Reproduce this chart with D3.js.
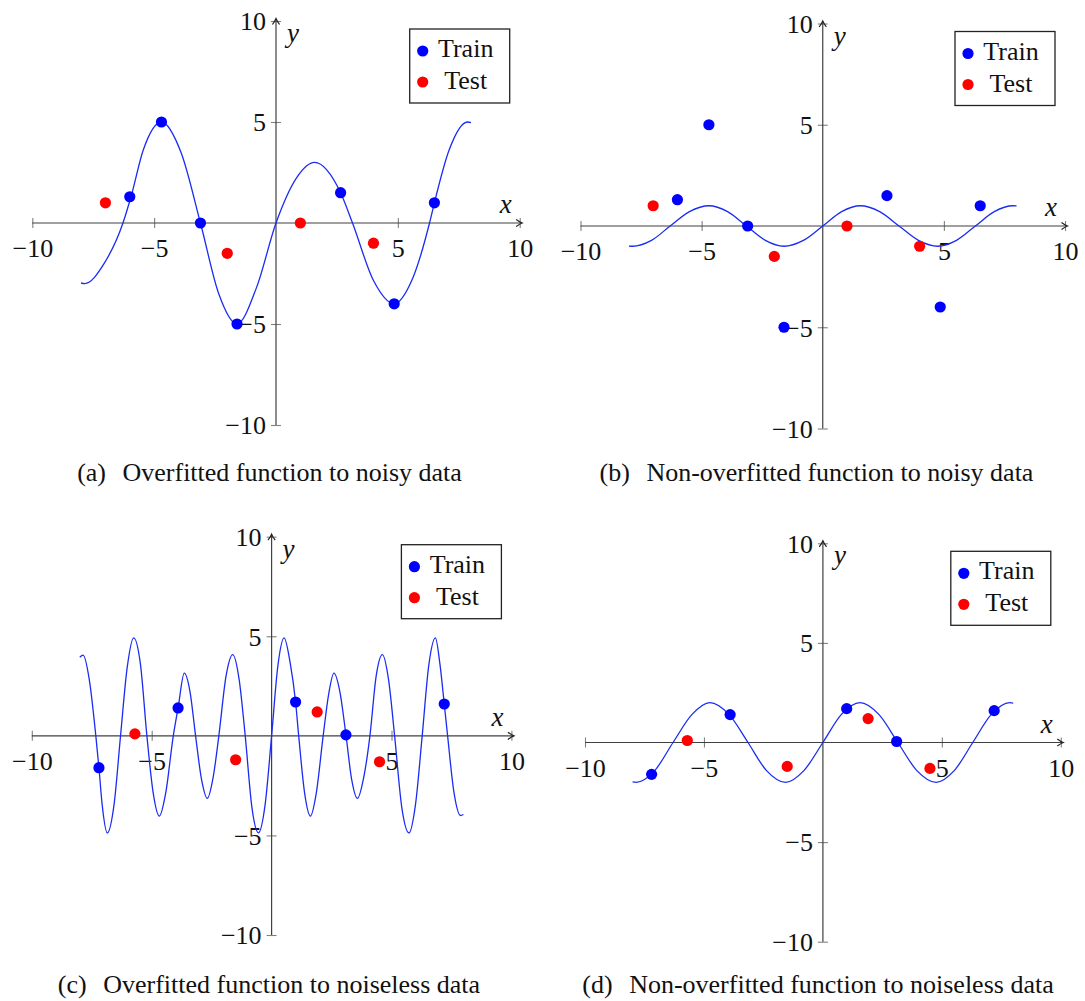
<!DOCTYPE html>
<html>
<head>
<meta charset="utf-8">
<script src="https://cdn.jsdelivr.net/npm/d3@7"></script>
<style>
  body { margin: 0; background: #fff; }
  svg text { font-family: "Liberation Serif", "DejaVu Serif", "Noto Serif", serif; fill: #111; }
  .tick text { font-size: 26px; }
</style>
</head>
<body>
<div id="figure"></div>
<script>
// Ticks used on both axes of every panel
var tickValues = [-10, -5, 5, 10];

// Noisy samples, panels (a) and (b)
var noisyTrainX = [-6.0, -4.7, -3.1, -1.6, 2.65, 4.85, 6.5];
var noisyTrainY = [1.3, 5.0, 0.0, -5.0, 1.5, -4.0, 1.0];
var noisyTestX = [-7.0, -2.0, 1.0, 4.0];
var noisyTestY = [1.0, -1.5, 0.0, -1.0];

// Noiseless samples, panels (c) and (d)
var cleanTrainX = [-7.2, -3.9, 1.0, 3.1, 7.2];
var cleanTrainY = [-1.6, 1.4, 1.7, 0.05, 1.6];
var cleanTestX = [-5.7, -1.5, 1.9, 4.5];
var cleanTestY = [0.1, -1.2, 1.2, -1.3];

// Fitted curves, points
var curveAX = [-8.0, -7.85, -7.05, -6.28, -5.95, -5.45, -4.7, -3.9, -3.1, -2.35, -1.6, -0.8, 0, 0.85, 1.58, 2.65, 3.14, 4.0, 4.85, 5.57, 6.3, 6.5, 7.1, 7.86, 8.0];
var curveAY = [-2.97, -3.0, -2.0, 0, 1.3, 3.6, 5.0, 3.5, 0, -3.5, -5.0, -3.2, 0, 2.25, 3.0, 1.5, 0, -2.85, -4.0, -2.85, 0, 1.0, 3.6, 5.0, 4.97];

var curveBX = [-8.0, -7.85, -7.07, -6.3, -5.5, -4.7, -3.93, -3.15, -2.37, -1.6, -0.8, 0, 0.78, 1.55, 2.35, 3.15, 3.95, 4.75, 5.52, 6.3, 7.08, 7.85, 8.0];
var curveBY = [-0.99, -1.0, -0.71, 0, 0.71, 1.0, 0.71, 0, -0.71, -1.0, -0.71, 0, 0.71, 1.0, 0.71, 0, -0.71, -1.0, -0.71, 0, 0.71, 1.0, 0.99];

var curveCX = [-8.0, -7.86, -7.6, -7.33, -7.2, -7.07, -6.85, -6.57, -6.3, -6.02, -5.75, -5.47, -5.2, -4.94, -4.68, -4.42,
  -4.1, -3.9, -3.64, -3.4, -3.17, -2.92, -2.68, -2.44, -2.2, -1.9, -1.62, -1.35, -1.1, -0.82, -0.55, -0.27,
  0, 0.26, 0.52, 0.77, 1.0, 1.13, 1.38, 1.62, 1.86, 2.15, 2.38, 2.6, 2.85, 3.1, 3.34, 3.58, 3.84,
  4.1, 4.36, 4.62, 4.88, 5.13, 5.43, 5.73, 6.0, 6.28, 6.55, 6.83, 7.02, 7.2, 7.34, 7.6, 7.88, 8.0];
var curveCY = [3.95, 4.05, 2.8, 0, -1.6, -3.4, -4.87, -3.45, 0, 3.45, 4.92, 3.6, 0, -2.85, -4.03, -2.9,
  0, 1.4, 3.15, 2.2, 0, -2.2, -3.14, -2.1, 0, 3.0, 4.08, 2.8, 0, -3.6, -4.87, -3.45,
  0, 3.5, 4.92, 3.7, 1.7, 0, -2.9, -4.03, -2.9, 0, 2.1, 3.15, 2.2, 0.05, -2.2, -3.14, -2.1,
  0, 3.0, 4.08, 2.8, 0, -3.6, -4.87, -3.45, 0, 3.5, 4.92, 3.6, 1.6, 0, -2.8, -4.0, -3.95];

var curveDX = [-8.0, -7.85, -7.07, -6.3, -5.5, -4.75, -3.95, -3.15, -2.37, -1.57, -0.8, 0, 0.78, 1.56, 2.35, 3.15, 3.95, 4.76, 5.52, 6.3, 7.08, 7.85, 8.0];
var curveDY = [-1.98, -2.0, -1.41, 0, 1.41, 2.0, 1.41, 0, -1.41, -2.0, -1.41, 0, 1.41, 2.0, 1.41, 0, -1.41, -2.0, -1.41, 0, 1.41, 2.0, 1.98];

var legendLabels = ["Train", "Test"];
var captionTags = ["(a)", "(b)", "(c)", "(d)"];
var captionTexts = [
  "Overfitted function to noisy data",
  "Non-overfitted function to noisy data",
  "Overfitted function to noiseless data",
  "Non-overfitted function to noiseless data"
];

var svgWidth = 1085;
var svgHeight = 1001;

var svg = d3.select("#figure")
  .append("svg")
  .attr("width", svgWidth)
  .attr("height", svgHeight);

svg.append("rect")
  .attr("width", svgWidth)
  .attr("height", svgHeight)
  .attr("fill", "#fff");

// Pixel box of each panel (where -10 and 10 land) and caption anchor
var panels = [
  { left: 32.3, right: 519.7, top: 21, bottom: 425, capX: 269.5, capY: 481,
    cx: curveAX, cy: curveAY, trX: noisyTrainX, trY: noisyTrainY, teX: noisyTestX, teY: noisyTestY },
  { left: 580.5, right: 1065, top: 23.5, bottom: 428.5, capX: 816.5, capY: 481,
    cx: curveBX, cy: curveBY, trX: noisyTrainX, trY: noisyTrainY, teX: noisyTestX, teY: noisyTestY },
  { left: 31.8, right: 511.4, top: 536.7, bottom: 935, capX: 269, capY: 993,
    cx: curveCX, cy: curveCY, trX: cleanTrainX, trY: cleanTrainY, teX: cleanTestX, teY: cleanTestY },
  { left: 585, right: 1060.8, top: 543.3, bottom: 941.7, capX: 818, capY: 993,
    cx: curveDX, cy: curveDY, trX: cleanTrainX, trY: cleanTrainY, teX: cleanTestX, teY: cleanTestY }
];

var axisColor = "#404040";
var tickColor = "#808080";

function arrowHead(g, tx, ty, angle) {
  g.append("path")
    .attr("d", "M-6,-3.6 Q-2.5,-1 0,0 Q-2.5,1 -6,3.6")
    .attr("transform", `translate(${tx}, ${ty}) rotate(${angle})`)
    .attr("fill", "none")
    .attr("stroke", "#222")
    .attr("stroke-width", 1.2);
}

function drawPanel(p, i) {
  var x = d3.scaleLinear().domain([-10, 10]).range([p.left, p.right]);
  var y = d3.scaleLinear().domain([-10, 10]).range([p.bottom, p.top]);

  var g = svg.append("g");

  // x axis through the origin
  var xAxis = g.append("g")
    .attr("transform", `translate(0, ${y(0)})`)
    .call(d3.axisBottom(x).tickValues(tickValues).tickSize(0));
  xAxis.select(".domain").remove();
  xAxis.selectAll(".tick line")
    .attr("y1", -5).attr("y2", 5)
    .attr("stroke", tickColor).attr("stroke-width", 1.1);
  xAxis.selectAll(".tick text")
    .attr("y", 34).attr("dy", null);

  // y axis through the origin
  var yAxis = g.append("g")
    .attr("transform", `translate(${x(0)}, 0)`)
    .call(d3.axisLeft(y).tickValues(tickValues).tickSize(0));
  yAxis.select(".domain").remove();
  yAxis.selectAll(".tick line")
    .attr("x1", -5).attr("x2", 5)
    .attr("stroke", tickColor).attr("stroke-width", 1.1);
  yAxis.selectAll(".tick text")
    .attr("x", -10).attr("dy", "0.34em");

  g.append("line")
    .attr("x1", x(-10)).attr("x2", x(10) + 2)
    .attr("y1", y(0)).attr("y2", y(0))
    .attr("stroke", axisColor).attr("stroke-width", 1.2);
  arrowHead(g, x(10) + 2.5, y(0), 0);

  g.append("line")
    .attr("x1", x(0)).attr("x2", x(0))
    .attr("y1", y(-10)).attr("y2", y(10) - 2)
    .attr("stroke", axisColor).attr("stroke-width", 1.2);
  arrowHead(g, x(0), y(10) - 2.5, -90);

  // fitted curve
  var line = d3.line()
    .x(d => x(d[0]))
    .y(d => y(d[1]))
    .curve(d3.curveMonotoneX);

  g.append("path")
    .datum(d3.zip(p.cx, p.cy))
    .attr("d", line)
    .attr("fill", "none")
    .attr("stroke", "#1a2cf2")
    .attr("stroke-width", 1.3);

  // samples
  g.selectAll(".train")
    .data(d3.zip(p.trX, p.trY))
    .enter()
    .append("circle")
    .attr("cx", d => x(d[0]))
    .attr("cy", d => y(d[1]))
    .attr("r", 5.6)
    .attr("fill", "#0000ff");

  g.selectAll(".test")
    .data(d3.zip(p.teX, p.teY))
    .enter()
    .append("circle")
    .attr("cx", d => x(d[0]))
    .attr("cy", d => y(d[1]))
    .attr("r", 5.6)
    .attr("fill", "#ff0000");

  // axis names
  g.append("text")
    .attr("x", x(10) - 14)
    .attr("y", y(0) - 10)
    .attr("text-anchor", "middle")
    .attr("font-style", "italic")
    .attr("font-size", 27)
    .text("x");

  g.append("text")
    .attr("x", x(0) + 11)
    .attr("y", y(10) + 21)
    .attr("font-style", "italic")
    .attr("font-size", 27)
    .text("y");

  // legend, top right corner
  var lx = x(10) - 110;
  var ly = y(10) + 8;
  var legend = g.append("g").attr("transform", `translate(${lx}, ${ly})`);
  legend.append("rect")
    .attr("width", 100).attr("height", 74)
    .attr("fill", "#fff")
    .attr("stroke", "#222").attr("stroke-width", 1.3);
  var colors = ["#0000ff", "#ff0000"];
  legendLabels.forEach(function(label, k) {
    legend.append("circle")
      .attr("cx", 13).attr("cy", 22 + k * 31)
      .attr("r", 5.6)
      .attr("fill", colors[k]);
    legend.append("text")
      .attr("x", 56).attr("y", 28 + k * 32)
      .attr("text-anchor", "middle")
      .attr("font-size", 26)
      .text(label);
  });

  // caption
  var cap = svg.append("text")
    .attr("x", p.capX)
    .attr("y", p.capY)
    .attr("text-anchor", "middle")
    .attr("font-size", 26);
  cap.append("tspan").text(captionTags[i]);
  cap.append("tspan").attr("dx", 10).text(" " + captionTexts[i]);
}

panels.forEach(drawPanel);
</script>
</body>
</html>
